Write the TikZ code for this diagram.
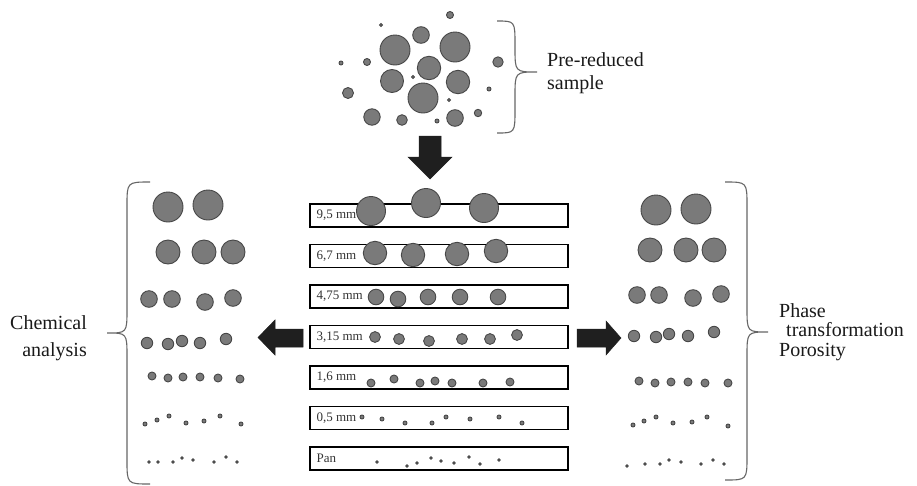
\documentclass[tikz,border=0pt]{standalone}
\usepackage{fontspec}
\setmainfont{Liberation Serif}
\newfontfamily\timesfont{Liberation Serif}
\usetikzlibrary{positioning}

% curly brace: ends x, spine x, tip x, top y, tip y, bottom y
\newcommand{\curlybrace}[6]{%
  \draw[brace] (#1,#4) .. controls (#2,#4) .. (#2,{#4+24})
    -- (#2,{#5-24}) .. controls (#2,#5) .. (#3,#5)
    .. controls (#2,#5) .. (#2,{#5+24})
    -- (#2,{#6-24}) .. controls (#2,#6) .. (#1,#6);}

\begin{document}
\begin{tikzpicture}[
  x=1pt,y=-1pt,
  sieve/.style={draw,line width=1.2pt,minimum width=258pt,minimum height=23pt,inner sep=0pt},
  sievelab/.style={inner sep=1pt,text=black!80,font=\timesfont\fontsize{13}{15}\selectfont},
  grain/.style={draw=black!72,fill=black!52,line width=0.9pt},
  bigarrow/.style={fill=black!88,draw=black!88,line width=0.5pt,line join=miter},
  brace/.style={draw=black!60,line width=1.1pt},
  note/.style={inner sep=0pt,text=black!90,font=\timesfont\fontsize{20}{23}\selectfont}
]
\useasboundingbox (0,0) rectangle (917,485);

% sieve stack
\foreach \i/\lab in {1/{9,5 mm},2/{6,7 mm},3/{4,75 mm},4/{3,15 mm},5/{1,6 mm},6/{0,5 mm},7/Pan}{
  \node[sieve] (s\i) at (439,{215.5+40.5*(\i-1)}) {};
  \node[sievelab,right=6pt of s\i.west] (lab\i) {\lab};
}

% pre-reduced sample
\foreach \x/\y/\r in {395/50/15, 421/35/8.3, 455/47/15, 450/15/3.5, 381/25/1.5,
    341/63/2, 367/62/3.5, 429/68/11.7, 392/81/11.5, 413/77/1.5, 458/82/11.7,
    498/62/5.2, 348/93/5.5, 423/98/15, 489/89/2, 449/100/1.5, 372/117/8.2,
    402/120/5.3, 437/121/2, 455/118/8.3, 478/113/3.7}
  \draw[grain] (\x,\y) circle (\r pt);

% grains on the sieves
\foreach \x/\y/\r in {371/211/14.5, 426/203/14.5, 484/208/14.5,
    375/253/11.7, 413/255/11.7, 457/254/11.7, 496/251/11.7,
    376/297/7.8, 398/299/7.8, 428/297/7.8, 460/297/7.8, 498/297/7.8,
    375/337/5.4, 399/339/5.4, 429/341/5.4, 462/339/5.4, 490/339/5.4, 517/335/5.4,
    371/383/4, 394/379/4, 420/383/4, 435/381/4, 452/383/4, 483/383/4, 510/382/4,
    362/417/2, 382/419/2, 405/423/2, 432/423/2, 446/417/2, 470/419/2, 499/417/2, 522/423/2,
    377/462/1.3, 407/466/1.3, 417/463/1.3, 431/458/1.3, 441/461/1.3, 454/463/1.3,
    469/457/1.3, 480/464/1.3, 499/460/1.3}
  \draw[grain] (\x,\y) circle (\r pt);

% fractions for chemical analysis
\foreach \x/\y/\r in {168/207/15, 208/205/15,
    168/252/12, 204/252/12, 233/252/12,
    149/299/8.3, 172/299/8.3, 205/302/8.3, 233/298/8.3,
    147/343/5.7, 168/344/5.7, 182/341/5.7, 200/343/5.7, 226/339/5.7,
    152/376/4, 168/378/4, 183/377/4, 200/377/4, 218/378/4, 240/379/4,
    145/424/2, 157/420/2, 169/416/2, 186/423/2, 204/421/2, 220/416/2, 241/424/2,
    149/462/1.3, 158/462/1.3, 173/462/1.3, 182/458/1.3, 193/460/1.3, 214/462/1.3,
    226/457/1.3, 237/462/1.3}
  \draw[grain] (\x,\y) circle (\r pt);

% fractions for phases and porosity
\foreach \x/\y/\r in {656/210/15, 696/209/15,
    650/250/12, 686/250/12, 714/250/12,
    637/295/8.3, 659/295/8.3, 693/298/8.3, 721/294/8.3,
    634/336/5.7, 656/337/5.7, 669/334/5.7, 688/336/5.7, 714/332/5.7,
    639/381/4, 655/383/4, 671/382/4, 688/382/4, 705/383/4, 728/383/4,
    633/425/2, 644/421/2, 656/417/2, 673/423/2, 692/422/2, 707/417/2, 728/426/2,
    627/466/1.3, 645/464/1.3, 660/464/1.3, 669/460/1.3, 681/462/1.3, 701/464/1.3,
    713/460/1.3, 724/464/1.3}
  \draw[grain] (\x,\y) circle (\r pt);

% block arrows
\filldraw[bigarrow] (419,136) -- (441,136) -- (441,157) -- (452,157) -- (430,179)
  -- (408,157) -- (419,157) -- cycle;
\filldraw[bigarrow] (303,329) -- (275,329) -- (275,320) -- (258,337.5) -- (275,355)
  -- (275,347) -- (303,347) -- cycle;
\filldraw[bigarrow] (577,329) -- (606,329) -- (606,321) -- (621,338) -- (606,355)
  -- (606,347) -- (577,347) -- cycle;

% braces
\curlybrace{497}{515}{537}{21}{72}{133}
\curlybrace{150}{127}{107}{182}{333}{484}
\curlybrace{725}{747}{768}{182}{332}{480}

% texts
\node[note,anchor=west,align=left] (sample) at (547,73.5) {Pre-reduced\\sample};
\node[note,anchor=east,align=right,font=\timesfont\fontsize{20}{27}\selectfont] (chem) at (87,338)
  {Chemical\\analysis};
\node[note,anchor=west,align=left,font=\timesfont\fontsize{20}{19.5}\selectfont] (phase) at (779,332)
  {Phase\\\hspace*{7pt}transformation\\Porosity};
\end{tikzpicture}
\end{document}
